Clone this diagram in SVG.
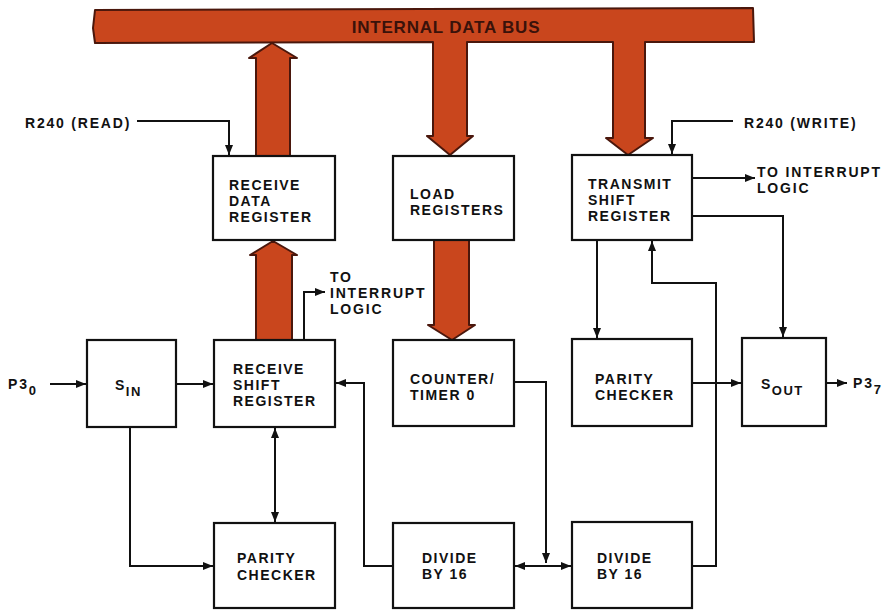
<svg xmlns="http://www.w3.org/2000/svg" width="885" height="610" viewBox="0 0 885 610">
<defs>
<marker id="ah" markerWidth="10" markerHeight="8" refX="10" refY="4" orient="auto-start-reverse" markerUnits="userSpaceOnUse">
<path d="M0,0 L10,4 L0,8 z" fill="#111"/>
</marker>
<style>
.box{fill:#fff;stroke:#111;stroke-width:2.2}
.t{font-family:"Liberation Sans",Arial,sans-serif;font-weight:bold;font-size:14px;letter-spacing:1.5px;fill:#111}
.lb{font-family:"Liberation Sans",Arial,sans-serif;font-weight:bold;font-size:14px;letter-spacing:1.8px;fill:#111}
.c{fill:none;stroke:#111;stroke-width:2}
.bus{fill:#c9461d;stroke:#4a170c;stroke-width:2;stroke-linejoin:round}
</style>
</defs>
<rect width="885" height="610" fill="#fff"/>

<g id="bus">
<path class="bus" d="M95,10 L753,8 L754,42 L645,42 L645,138 L653,138 L628,155 L606,138 L613,138 L613,42 L467,42 L467,136 L473,136 L450,155 L427,136 L433,136 L433,42 L95,43 L93,28 Z"/>
<text x="446" y="33" text-anchor="middle" font-family="'Liberation Sans',Arial,sans-serif" font-weight="bold" font-size="17" letter-spacing="0.8" fill="#3a120a">INTERNAL DATA BUS</text>
<path class="bus" d="M256,156 L256,58 L249,58 L272,43 L297,58 L290,58 L290,156 Z"/>
<path class="bus" d="M256,340 L256,255 L250,255 L273,241 L297,255 L292,255 L292,340 Z"/>
<path class="bus" d="M434,240 L434,325 L428,325 L452,340 L475,325 L469,325 L469,240 Z"/>
</g>

<g id="connectors">
<path class="c" d="M137,121 H229 V155" marker-end="url(#ah)"/>
<path class="c" d="M733,121 H672 V154" marker-end="url(#ah)"/>
<path class="c" d="M692,178 H755" marker-end="url(#ah)"/>
<path class="c" d="M692,216 H783 V337" marker-end="url(#ah)"/>
<path class="c" d="M597,240 V338" marker-end="url(#ah)"/>
<path class="c" d="M692,566 H716 V283 H652 V241" marker-end="url(#ah)"/>
<path class="c" d="M692,383 H741" marker-end="url(#ah)"/>
<path class="c" d="M826,383 H847" marker-end="url(#ah)"/>
<path class="c" d="M50,384 H86" marker-end="url(#ah)"/>
<path class="c" d="M176,384 H213" marker-end="url(#ah)"/>
<path class="c" d="M130,427 V566 H213" marker-end="url(#ah)"/>
<path class="c" d="M275,428 V522" marker-start="url(#ah)" marker-end="url(#ah)"/>
<path class="c" d="M393,566 H364 V383 H336" marker-end="url(#ah)"/>
<path class="c" d="M514,382 H546 V563" marker-end="url(#ah)"/>
<path class="c" d="M515,566 H571" marker-start="url(#ah)" marker-end="url(#ah)"/>
<path class="c" d="M304,340 V292 H325" marker-end="url(#ah)"/>
</g>

<g id="labels">
<text class="lb" x="25" y="128">R240 (READ)</text>
<text class="lb" x="744" y="128">R240 (WRITE)</text>
<text class="lb" x="757" y="177">TO INTERRUPT</text>
<text class="lb" x="757" y="193">LOGIC</text>
<text class="lb" x="330" y="282">TO</text>
<text class="lb" x="330" y="298">INTERRUPT</text>
<text class="lb" x="330" y="314">LOGIC</text>
<text class="lb" x="8" y="389">P3<tspan font-size="13" dy="6">0</tspan></text>
<text class="lb" x="853" y="388">P3<tspan font-size="13" dy="6">7</tspan></text>
</g>

<g id="receive-data-register">
<rect class="box" x="213" y="156" width="122" height="84"/>
<text class="t" x="229" y="190">RECEIVE</text>
<text class="t" x="229" y="206">DATA</text>
<text class="t" x="229" y="222">REGISTER</text>
</g>

<g id="load-registers">
<rect class="box" x="393" y="156" width="121" height="84"/>
<text class="t" x="410" y="199">LOAD</text>
<text class="t" x="410" y="215">REGISTERS</text>
</g>

<g id="transmit-shift-register">
<rect class="box" x="572" y="155" width="120" height="85"/>
<text class="t" x="588" y="189">TRANSMIT</text>
<text class="t" x="588" y="205">SHIFT</text>
<text class="t" x="588" y="221">REGISTER</text>
</g>

<g id="s-in">
<rect class="box" x="87" y="340" width="89" height="87"/>
<text class="t" x="115" y="390" font-size="15">S<tspan font-size="13" dy="6">IN</tspan></text>
</g>

<g id="receive-shift-register">
<rect class="box" x="214" y="340" width="121" height="87"/>
<text class="t" x="233" y="374">RECEIVE</text>
<text class="t" x="233" y="390">SHIFT</text>
<text class="t" x="233" y="406">REGISTER</text>
</g>

<g id="counter-timer">
<rect class="box" x="393" y="340" width="121" height="86"/>
<text class="t" x="410" y="384">COUNTER/</text>
<text class="t" x="410" y="400">TIMER 0</text>
</g>

<g id="parity-checker-tx">
<rect class="box" x="572" y="339" width="120" height="87"/>
<text class="t" x="595" y="384">PARITY</text>
<text class="t" x="595" y="400">CHECKER</text>
</g>

<g id="s-out">
<rect class="box" x="742" y="338" width="84" height="88"/>
<text class="t" x="761" y="389" font-size="15">S<tspan font-size="13" dy="6">OUT</tspan></text>
</g>

<g id="parity-checker-rx">
<rect class="box" x="214" y="523" width="121" height="85"/>
<text class="t" x="237" y="563">PARITY</text>
<text class="t" x="237" y="580">CHECKER</text>
</g>

<g id="divide-by-16-left">
<rect class="box" x="393" y="523" width="121" height="85"/>
<text class="t" x="422" y="563">DIVIDE</text>
<text class="t" x="422" y="579">BY 16</text>
</g>

<g id="divide-by-16-right">
<rect class="box" x="572" y="522" width="120" height="86"/>
<text class="t" x="597" y="563">DIVIDE</text>
<text class="t" x="597" y="579">BY 16</text>
</g>
</svg>
